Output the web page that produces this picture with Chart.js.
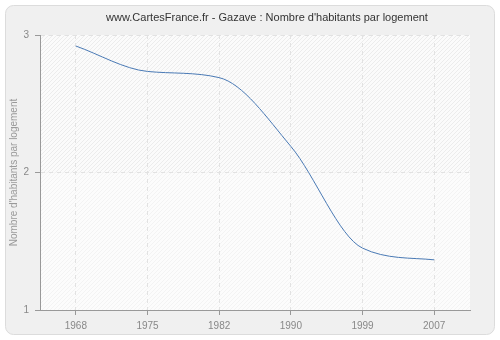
<!DOCTYPE html>
<html><head><meta charset="utf-8">
<script src="https://cdn.jsdelivr.net/npm/chart.js@4/dist/chart.umd.min.js"></script>
<style>html,body{margin:0;padding:0;background:#fff}#w{width:500px;height:340px;position:relative}</style>
</head><body><div id="w"><canvas id="c" width="500" height="340"></canvas></div>
<script>
const titleText = "www.CartesFrance.fr - Gazave : Nombre d'habitants par logement";
const yTitle = "Nombre d'habitants par logement";
const years = ["1968","1975","1982","1990","1999","2007"];
const values = [2.92, 2.735, 2.69, 2.19, 1.45, 1.365];
const yTicks = [1, 2, 3];
const FONT = '"Liberation Sans", Arial, sans-serif';

function hatch(ctx, bg, line){
  const p = document.createElement('canvas'); p.width = 4; p.height = 4;
  const g = p.getContext('2d');
  g.fillStyle = bg; g.fillRect(0,0,4,4);
  g.fillStyle = line;
  g.fillRect(3,0,1,1); g.fillRect(2,1,1,1); g.fillRect(1,2,1,1); g.fillRect(0,3,1,1);
  return ctx.createPattern(p,'repeat');
}

const deco = {
  id:'deco',
  beforeDraw(chart){
    const ctx = chart.ctx, a = chart.chartArea;
    ctx.save();
    ctx.fillStyle = '#fff'; ctx.fillRect(0,0,500,340);
    ctx.beginPath();
    if (ctx.roundRect) ctx.roundRect(5.5,5.5,489,329,8); else ctx.rect(5.5,5.5,489,329);
    ctx.fillStyle = '#f0f0f0'; ctx.fill();
    ctx.strokeStyle = '#dcdcdc'; ctx.lineWidth = 1; ctx.stroke();
    const ymid = chart.scales.y.getPixelForValue(2);
    ctx.fillStyle = hatch(ctx,'#fbfbfb','#ececec');
    ctx.fillRect(a.left,a.top,a.right-a.left,ymid-a.top);
    ctx.fillStyle = hatch(ctx,'#fcfcfc','#f3f3f3');
    ctx.fillRect(a.left,ymid,a.right-a.left,a.bottom-ymid);
    ctx.fillStyle = '#333';
    ctx.font = '11px ' + FONT;
    ctx.textAlign = 'center'; ctx.textBaseline = 'middle';
    ctx.fillText(titleText, 267, 18);
    ctx.translate(14, (a.top+a.bottom)/2);
    ctx.rotate(-Math.PI/2);
    ctx.fillStyle = '#999';
    ctx.font = '10px ' + FONT;
    ctx.fillText(yTitle, 0, 0);
    ctx.restore();
  }
};

new Chart(document.getElementById('c'), {
  type:'line',
  data:{ labels: years, datasets:[{ data: values, borderColor:'#4a7ab5', borderWidth:1, pointRadius:0, cubicInterpolationMode:'monotone', fill:false }]},
  options:{
    responsive:false, animation:false,
    layout:{ padding:{ left:0, right:30, top:35, bottom:0 } },
    plugins:{ legend:{display:false}, title:{display:false}, tooltip:{enabled:false} },
    scales:{
      x:{
        offset:true,
        afterFit(s){ s.height = 30; },
        grid:{ offset:false, color:'#e2e2e2', tickColor:'#999', tickLength:5, drawOnChartArea:true },
        border:{ color:'#999', dash:[4,4] },
        ticks:{ color:'#888', font:{ family:FONT, size:10 }, padding:5, maxRotation:0 }
      },
      y:{
        min:1, max:3,
        afterFit(s){ s.width = 40; },
        afterBuildTicks(s){ s.ticks = yTicks.map(v=>({value:v})); },
        grid:{ color:'#e2e2e2', tickColor:'#999', tickLength:5 },
        border:{ color:'#999', dash:[4,4] },
        ticks:{ color:'#888', font:{ family:FONT, size:10 }, padding:6 }
      }
    }
  },
  plugins:[deco]
});
</script></body></html>
